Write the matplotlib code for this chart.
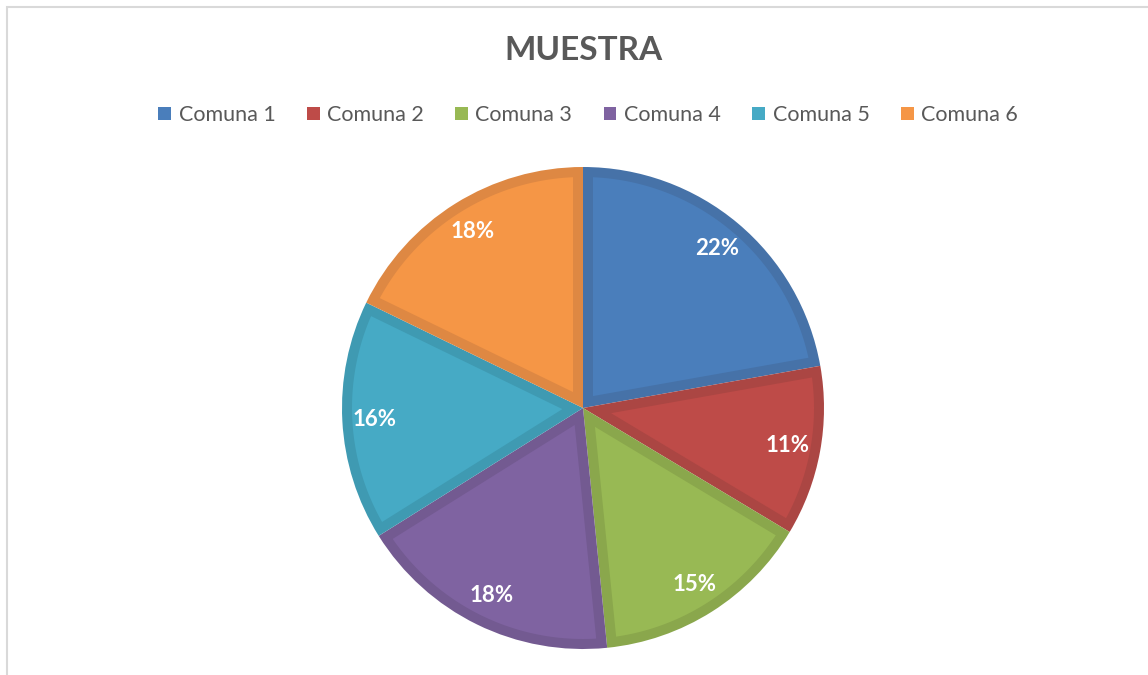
import numpy as np
import matplotlib.pyplot as plt
import matplotlib.patches as mpatches

plt.rcParams['font.family'] = ['Lato', 'DejaVu Sans']

labels = ["Comuna 1", "Comuna 2", "Comuna 3", "Comuna 4", "Comuna 5", "Comuna 6"]
values = [22.2, 11.4, 14.8, 17.7, 16.1, 17.8]
fills = ["#4A7EBB", "#BE4B48", "#98B954", "#7F63A1", "#46AAC5", "#F59646"]
edges = ["#4672A8", "#AB4643", "#8AA74C", "#735A91", "#3F9AB2", "#DE8843"]

W, H = 1148, 675
fig = plt.figure(figsize=(W / 100, H / 100), dpi=100)

# light frame like the office chart area
frame = mpatches.Rectangle((7 / W, -0.1), 1.2, 1 - 7 / H + 0.1, transform=fig.transFigure,
                           fill=False, edgecolor="#D9D9D9", linewidth=1.5)
fig.patches.append(frame)

R = 241
cx, cy = 583, H - 408
ax = fig.add_axes([(cx - R) / W, (cy - R) / H, 2 * R / W, 2 * R / H])
# outer pie in the darker border colour
wedges, texts, autotexts = ax.pie(values, colors=edges, startangle=90, counterclock=False,
                                  autopct='%.0f%%', pctdistance=0.865, radius=1,
                                  wedgeprops=dict(linewidth=0),
                                  textprops=dict(color="white", fontsize=16, fontweight="bold"))

# inset fill inside each wedge, leaving a border band
d = 10 / R
for w, fc in zip(wedges, fills):
    t1, t2 = np.radians(w.theta1), np.radians(w.theta2)
    half = (t2 - t1) / 2
    mid = (t1 + t2) / 2
    apex_r = d / np.sin(half)
    apex = (apex_r * np.cos(mid), apex_r * np.sin(mid))
    r_in = 1 - d
    delta = np.arcsin(d / r_in)
    ang = np.linspace(t1 + delta, t2 - delta, 100)
    pts = [apex] + list(zip(r_in * np.cos(ang), r_in * np.sin(ang)))
    ax.add_patch(mpatches.Polygon(pts, closed=True, facecolor=fc, edgecolor="none", zorder=1.5))

ax.set_xlim(-1, 1)
ax.set_ylim(-1, 1)
ax.set_aspect('equal')

fig.text(583 / W, 1 - 50 / H, "MUESTRA", ha="center", va="center",
         fontsize=24, fontweight="bold", color="#595959")

handles = [mpatches.Patch(facecolor=c, edgecolor="none") for c in fills]
fig.legend(handles, labels, loc="center", bbox_to_anchor=(588 / W, 1 - 115 / H), ncol=6,
           frameon=False, fontsize=15.5, labelcolor="#595959", handlelength=0.6,
           handleheight=0.6, handletextpad=0.35, columnspacing=1.45)

fig.savefig("out.png", dpi=100, facecolor="white")
